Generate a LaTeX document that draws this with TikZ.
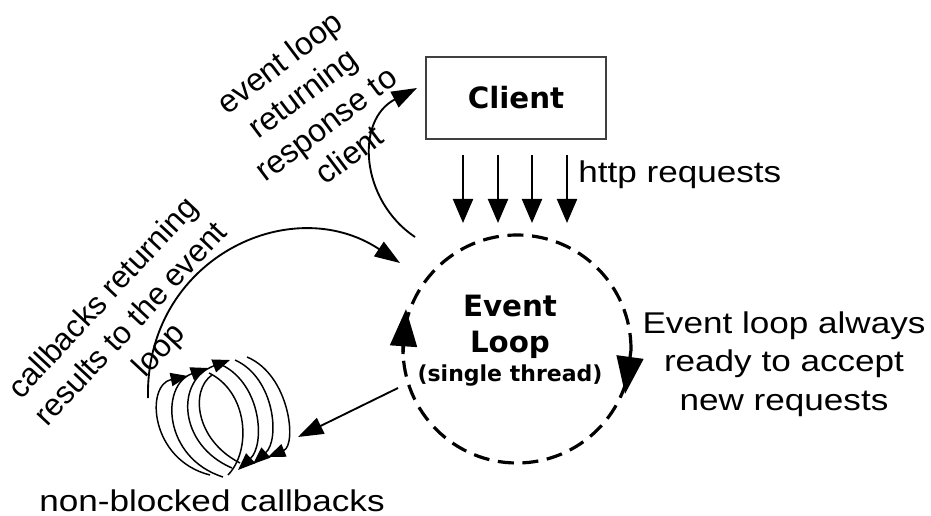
\documentclass[tikz,border=0pt]{standalone}
\usepackage{fontspec}
\setmainfont{Liberation Sans}
\newfontfamily\djv{DejaVu Sans}
\usetikzlibrary{arrows.meta}
\begin{document}
\begin{tikzpicture}[x=0.75pt, y=-0.75pt,
  lbl/.style={xscale=1.17, align=center, inner sep=0pt, font=\fontsize{22.5}{29}\selectfont},
  rlbl/.style={align=center, inner sep=0pt, font=\fontsize{24}{29}\selectfont},
  boxfont/.style={font=\djv\bfseries\fontsize{22}{26}\selectfont},
  httparrow/.style={line width=1.6pt, -{Triangle[length=18pt,width=15pt]}},
  looptip/.style={line width=2.4pt, -{Triangle[length=28pt,width=20pt]}},
  curvearrow/.style={line width=1.4pt, -{Triangle[length=19pt,width=13pt]}},
  spiral/.style={line width=1.1pt},
  spiraltip/.style={line width=1.1pt, -{Triangle[length=13pt,width=10pt]}}
]
\fill[white] (0,0) rectangle (931,516);
\useasboundingbox (0,0) rectangle (931,516);

% client box
\node[draw=black!75, line width=1.5pt, minimum width=135pt, minimum height=61.5pt, inner sep=0pt, boxfont] (client) at (516,98) {Client};

% event loop circle
\node[draw, circle, minimum size=171pt, inner sep=0pt, line width=2.4pt, dash pattern=on 12pt off 6.5pt] (loop) at (517,349) {};
\node[boxfont, anchor=base, inner sep=0pt] (ev) at (510,317) {Event};
\node[boxfont, anchor=base, inner sep=0pt] (lp) at (510,353) {Loop};
\node[font=\djv\bfseries\fontsize{16.5}{20}\selectfont, anchor=base, inner sep=0pt] (st) at (510,382) {(single thread)};

% arrowheads on the loop
\coordinate (rs) at (631,350);
\coordinate (rt) at (625,394);
\draw[looptip] (rs) -- (rt);
\coordinate (ls) at (403,354);
\coordinate (lt) at (406,309);
\draw[looptip] (ls) -- (lt);

% http requests
\foreach \i/\x in {1/463,2/498,3/532,4/567}{
  \coordinate (h\i a) at (\x,155);
  \coordinate (h\i b) at (\x,223);
  \draw[httparrow] (h\i a) -- (h\i b);
}
\node[lbl, anchor=base west] (http) at (578,183) {http requests};

% right text
\node[lbl] (ready) at (784,364) {Event loop always\\ready to accept\\new requests};

% response to client
\coordinate (respstart) at (415,237);
\coordinate (respend) at (417,88);
\draw[curvearrow] (respstart) .. controls (360,200) and (355,120) .. (respend);
\node[rlbl, rotate=37] (resp) at (314,108) {event loop\\returning\\response to\\client};

% callbacks returning
\coordinate (cbstart) at (148,398);
\coordinate (cbend) at (400,263);
\draw[curvearrow] (cbstart) .. controls (145,260) and (290,190) .. (cbend);
\node[rlbl, rotate=47, font=\fontsize{23.5}{28.5}\selectfont] (cbret) at (132,325) {callbacks returning\\results to the event\\loop};

% loop to callbacks
\coordinate (l2c) at (398,388);
\coordinate (cbtip) at (298,437);
\draw[curvearrow] (l2c) -- (cbtip);

% callbacks spiral
\draw[spiraltip] (210,475) .. controls (150,460) and (145,385) .. (188,376);
\draw[spiraltip] (223,477) .. controls (163,458) and (160,385) .. (208,368);
\draw[spiraltip] (232,468) .. controls (178,445) and (175,380) .. (230,360);
\draw[spiral] (240,463) .. controls (195,440) and (190,390) .. (212,375);
\draw[spiraltip] (247,357) .. controls (290,375) and (297,445) .. (268,457);
\draw[spiraltip] (235,360) .. controls (275,378) and (280,440) .. (253,464);
\draw[spiraltip] (222,365) .. controls (262,385) and (265,445) .. (238,470);
\draw[spiral] (209,373) .. controls (248,392) and (252,450) .. (228,475);

\node[lbl, anchor=base] (nbc) at (212,511) {non-blocked callbacks};
\end{tikzpicture}
\end{document}
